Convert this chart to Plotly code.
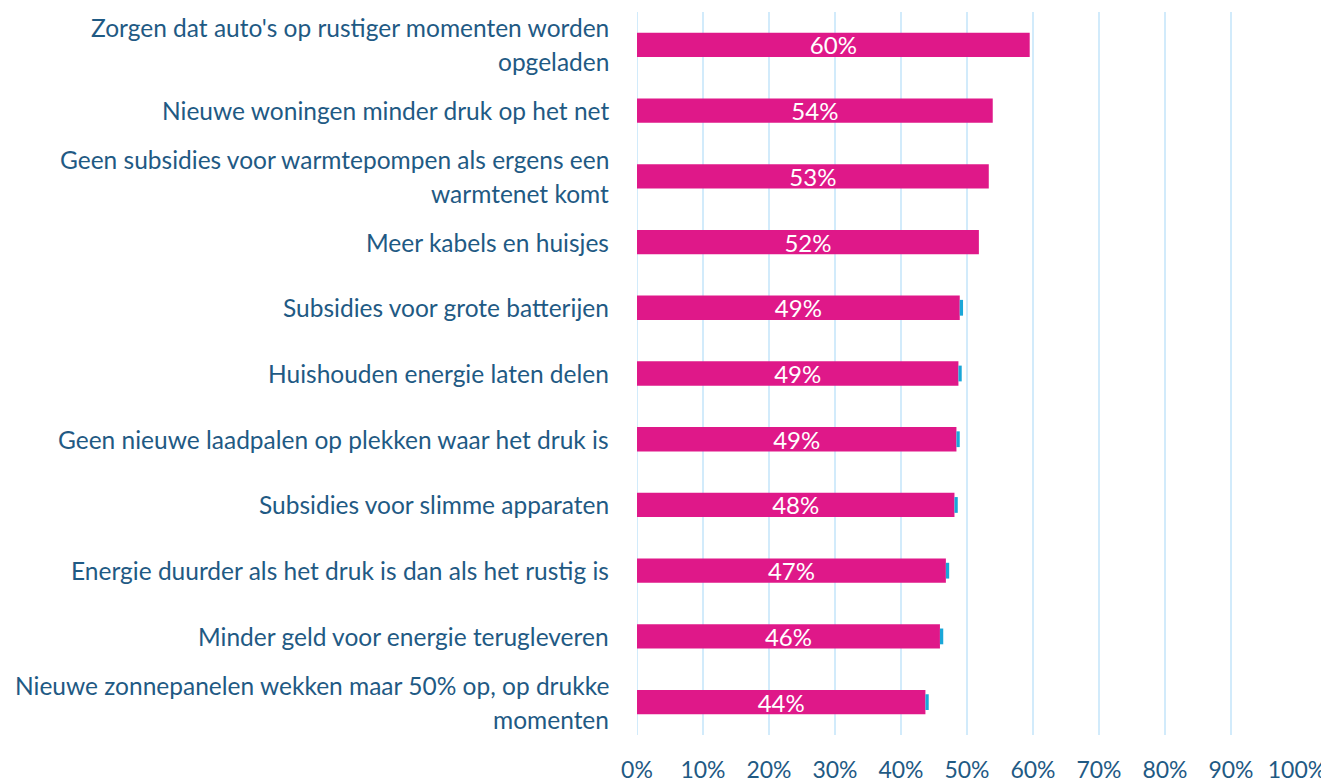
import plotly.graph_objects as go

categories = [
    "Zorgen dat auto's op rustiger momenten worden<br>opgeladen",
    "Nieuwe woningen minder druk op het net",
    "Geen subsidies voor warmtepompen als ergens een<br>warmtenet komt",
    "Meer kabels en huisjes",
    "Subsidies voor grote batterijen",
    "Huishouden energie laten delen",
    "Geen nieuwe laadpalen op plekken waar het druk is",
    "Subsidies voor slimme apparaten",
    "Energie duurder als het druk is dan als het rustig is",
    "Minder geld voor energie terugleveren",
    "Nieuwe zonnepanelen wekken maar 50% op, op drukke<br>momenten",
]
values = [59.5, 53.9, 53.3, 51.8, 48.9, 48.7, 48.4, 48.1, 46.8, 45.9, 43.7]
value_labels = ["60%", "54%", "53%", "52%", "49%", "49%", "49%", "48%", "47%", "46%", "44%"]
cyan_values = [0, 0, 0, 0, 0.5, 0.5, 0.5, 0.5, 0.5, 0.5, 0.5]
x_ticks = [0, 10, 20, 30, 40, 50, 60, 70, 80, 90, 100]
x_tick_labels = ["0%", "10%", "20%", "30%", "40%", "50%", "60%", "70%", "80%", "90%", "100%"]

TEXT = "#1f5a84"
PINK = "#df1889"
FONT = "Lato"
FS = 24.5

fig = go.Figure()
fig.add_trace(go.Bar(
    y=categories, x=values, orientation="h",
    marker=dict(color=PINK, line=dict(width=0)),
    width=0.37,
    text=value_labels, textposition="inside", insidetextanchor="middle",
    constraintext="none",
    textfont=dict(color="white", size=24, family=FONT),
    showlegend=False, hoverinfo="skip",
))
fig.add_trace(go.Bar(
    y=categories, x=cyan_values, base=values, orientation="h",
    marker=dict(color="#1aa7d8", line=dict(width=0)),
    width=0.24, showlegend=False, hoverinfo="skip",
))

# y labels as annotations with custom line spacing
for cat in categories:
    lines = cat.split("<br>")
    n = len(lines)
    for i, ln in enumerate(lines):
        shift = (n - 1) * 17 - i * 34
        fig.add_annotation(
            x=0, xref="paper", y=cat, yref="y", text=ln,
            xanchor="right", yanchor="middle", xshift=-26, yshift=shift,
            showarrow=False, font=dict(color=TEXT, size=FS, family=FONT),
        )

# page body has an 8px default margin; figure is sized to fill the rest
fig.update_layout(
    width=1321, height=776,
    margin=dict(l=629, r=32, t=4, b=49, autoexpand=False),
    paper_bgcolor="white", plot_bgcolor="white",
    barmode="overlay",
    xaxis=dict(
        range=[0, 100], tickvals=x_ticks, ticktext=x_tick_labels,
        showgrid=True, gridcolor="#d2ebfb", gridwidth=2,
        zeroline=False, showline=False, automargin=False,
        tickfont=dict(color=TEXT, size=23, family=FONT),
        ticklabelstandoff=19, ticklabeloverflow="allow",
    ),
    yaxis=dict(
        categoryorder="array", categoryarray=categories[::-1],
        showticklabels=False, showgrid=False, zeroline=False, automargin=False,
        range=[-0.5, len(categories) - 0.5],
    ),
)
fig.add_shape(type="line", x0=0, x1=0, y0=0, y1=1, xref="x", yref="paper",
              line=dict(color="#d2ebfb", width=2), layer="below")

fig.write_html("out.html")
